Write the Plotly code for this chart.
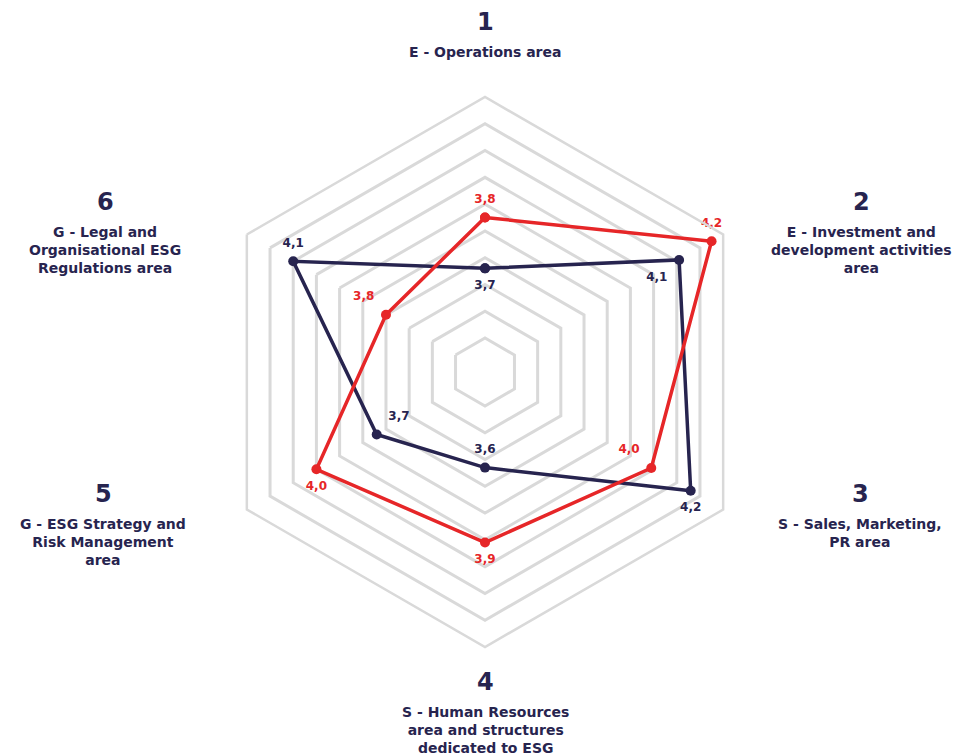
import plotly.graph_objects as go

categories = ["1", "2", "3", "4", "5", "6"]
axis_titles = [
    "E - Operations area",
    "E - Investment and<br>development activities<br>area",
    "S - Sales, Marketing,<br>PR area",
    "S - Human Resources<br>area and structures<br>dedicated to ESG",
    "G - ESG Strategy and<br>Risk Management<br>area",
    "G - Legal and<br>Organisational ESG<br>Regulations area",
]
red_values = [3.85, 4.25, 3.99, 3.91, 4.00, 3.70]
red_labels = ["3,8", "4,2", "4,0", "3,9", "4,0", "3,8"]
navy_values = [3.66, 4.11, 4.16, 3.63, 3.74, 4.10]
navy_labels = ["3,7", "4,1", "4,2", "3,6", "3,7", "4,1"]
grid_ticks = [3.4, 3.5, 3.6, 3.7, 3.8, 3.9, 4.0, 4.1, 4.2, 4.3]

RED = "#e62628"
NAVY = "#27244f"
GRID = "#d9d9d9"
FONT = "DejaVu Sans"

red_pos = ["top center", "top center", "top left", "bottom center", "bottom center", "top left"]
navy_pos = ["bottom center", "bottom left", "bottom center", "top center", "top right", "top center"]

def closed(lst):
    return list(lst) + [lst[0]]

fig = go.Figure()
for vals, labels, pos, color in [(navy_values, navy_labels, navy_pos, NAVY),
                                 (red_values, red_labels, red_pos, RED)]:
    fig.add_trace(go.Scatterpolar(
        r=closed(vals), theta=closed(categories),
        mode="lines+markers",
        line=dict(color=color, width=3.5),
        marker=dict(color=color, size=10),
        cliponaxis=False, showlegend=False, hoverinfo="skip",
    ))
for vals, labels, pos, color in [(navy_values, navy_labels, navy_pos, NAVY),
                                 (red_values, red_labels, red_pos, RED)]:
    fig.add_trace(go.Scatterpolar(
        r=vals, theta=categories,
        mode="markers+text",
        text=labels, textposition=pos,
        textfont=dict(family=FONT, size=12, color=color, weight="bold"),
        marker=dict(color=color, size=17, opacity=0),
        cliponaxis=False, showlegend=False,
    ))

W, H = 964, 756
cx, cy, R = 485, 372, 275
fig.update_layout(
    width=W, height=H,
    margin=dict(l=0, r=0, t=0, b=0),
    paper_bgcolor="white", plot_bgcolor="white",
    polar=dict(
        domain=dict(x=[(cx - R) / W, (cx + R) / W], y=[(H - cy - R) / H, (H - cy + R) / H]),
        gridshape="linear",
        bgcolor="white",
        radialaxis=dict(range=[3.273, 4.3], tickvals=grid_ticks, showticklabels=False,
                        ticks="", showline=False, gridcolor=GRID, gridwidth=2.5),
        angularaxis=dict(type="category", categoryarray=categories, direction="clockwise",
                         rotation=90, showticklabels=False, ticks="", showgrid=False,
                         showline=True, linecolor=GRID, linewidth=2.5),
    ),
)

# axis titles as annotations
num_pos = [(485, 22), (861, 202), (860, 494), (485, 682), (103, 494), (105, 202)]
for i, (x, y) in enumerate(num_pos):
    fig.add_annotation(x=x / W, y=1 - y / H, xref="paper", yref="paper",
                       text=categories[i], showarrow=False,
                       font=dict(family=FONT, size=24, color=NAVY, weight="bold"),
                       xanchor="center", yanchor="middle")
    fig.add_annotation(x=x / W, y=1 - (y + 20) / H, xref="paper", yref="paper",
                       text=axis_titles[i], showarrow=False, align="center",
                       font=dict(family=FONT, size=14, color=NAVY, weight="bold"),
                       xanchor="center", yanchor="top")

fig.write_html("out.html")
